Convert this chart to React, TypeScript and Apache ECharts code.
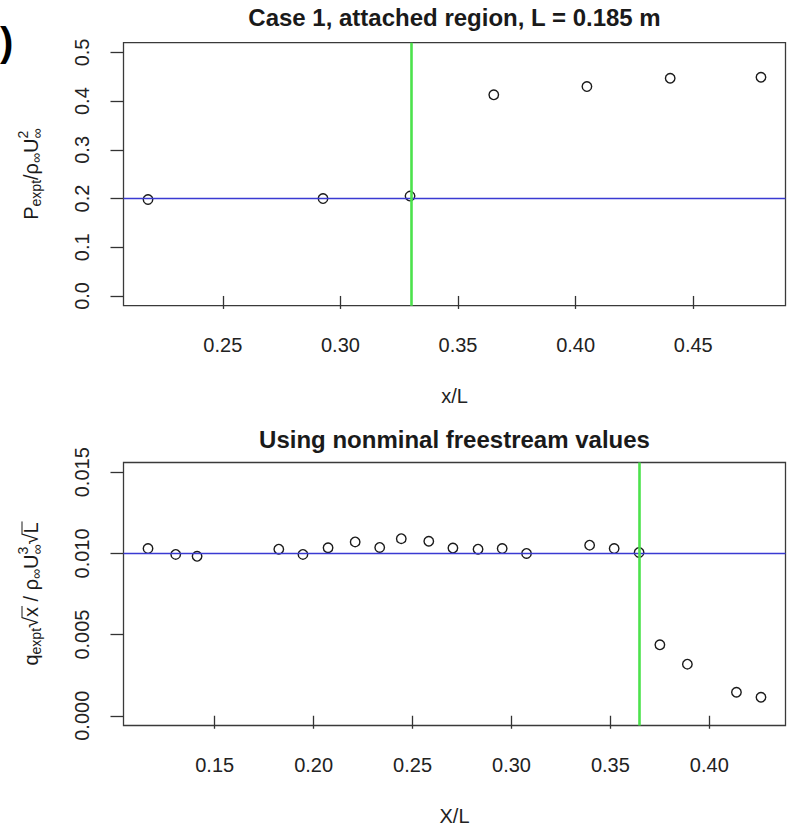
import React, { useEffect, useRef } from 'react';
import * as echarts from 'echarts';

const FONT = '"Liberation Sans", Arial, Helvetica, sans-serif';
const INK = '#1a1a1a';

const topTitle = 'Case 1, attached region, L = 0.185 m';
const bottomTitle = 'Using nonminal freestream values';
const topXName = 'x/L';
const bottomXName = 'X/L';
const panelTag = ')';

const topX = [0.2182, 0.2926, 0.3296, 0.3652, 0.4048, 0.4402, 0.4788];
const topY = [0.198, 0.2, 0.205, 0.413, 0.43, 0.447, 0.449];
const topXTicks = [0.25, 0.3, 0.35, 0.4, 0.45];
const topYTicks = [0, 0.1, 0.2, 0.3, 0.4, 0.5];
const topYLim = [0, 0.5];
const topHLine = 0.2;
const topVLine = 0.33;

const bottomX = [
  0.1163, 0.1303, 0.1411, 0.1824, 0.1946, 0.2073, 0.221, 0.2334, 0.2443, 0.2582, 0.2704,
  0.2831, 0.2953, 0.3076, 0.3395, 0.3519, 0.3645, 0.375, 0.3889, 0.4137, 0.4261,
];
const bottomY = [
  0.0103, 0.00994, 0.00982, 0.01026, 0.00994, 0.01035, 0.01071, 0.01037, 0.01091, 0.01075,
  0.01033, 0.01026, 0.0103, 0.01, 0.01051, 0.0103, 0.01006, 0.00437, 0.00318, 0.00145, 0.00114,
];
const bottomXTicks = [0.15, 0.2, 0.25, 0.3, 0.35, 0.4];
const bottomYTicks = [0, 0.005, 0.01, 0.015];
const bottomYLim = [0, 0.015];
const bottomHLine = 0.01;
const bottomVLine = 0.3645;

const BLUE = '#3a3ad2';
const GREEN = '#4ce24c';

function ext(lo: number, hi: number): [number, number] {
  const d = (hi - lo) * 0.04;
  return [lo - d, hi + d];
}

function measure(text: string, size: number): number {
  const c = document.createElement('canvas').getContext('2d');
  if (!c) return text.length * size * 0.55;
  c.font = `${size}px ${FONT}`;
  return c.measureText(text).width;
}

type Piece = { t?: string; stack?: [string, string]; size: number; dy?: number; over?: boolean };

function yTitle(pieces: Piece[], cx: number, cy: number) {
  const widths = pieces.map((p) =>
    p.stack ? Math.max(measure(p.stack[0], p.size), measure(p.stack[1], p.size)) : measure(p.t || '', p.size)
  );
  const total = widths.reduce((a, b) => a + b, 0);
  let x = -total / 2;
  const children: any[] = [];
  const mk = (t: string, size: number, px: number, py: number) => ({
    type: 'text',
    x: px,
    y: py,
    style: {
      text: t,
      fontSize: size,
      fontFamily: FONT,
      fill: INK,
      align: 'left',
      verticalAlign: 'middle',
      textAlign: 'left',
      textVerticalAlign: 'middle',
    },
  });
  pieces.forEach((p, i) => {
    const w = widths[i];
    if (p.stack) {
      children.push(mk(p.stack[0], p.size, x, -8));
      children.push(mk(p.stack[1], p.size, x, 6));
    } else {
      children.push(mk(p.t || '', p.size, x, p.dy || 0));
    }
    if (p.over) {
      children.push({
        type: 'line',
        shape: { x1: x - 1, y1: -9, x2: x + w + 1, y2: -9 },
        style: { stroke: INK, lineWidth: 1 },
      });
    }
    x += w;
  });
  return { type: 'group', x: cx, y: cy, rotation: Math.PI / 2, children };
}

const GRID_LEFT = 123.5;
const GRID_W = 662;
const GRID_H = 263;
const TOP1 = 42.7;
const TOP2 = 462.5;
const AXIS_COLOR = '#333';
const LABEL_SIZE = 20;

function xAxisCfg(idx: number, lim: [number, number], ticks: number[], name: string) {
  return {
    type: 'value',
    gridIndex: idx,
    min: lim[0],
    max: lim[1],
    axisLine: { show: false },
    splitLine: { show: false },
    axisTick: { show: true, length: 13, customValues: ticks, lineStyle: { color: AXIS_COLOR, width: 1.3 } },
    axisLabel: {
      customValues: ticks,
      formatter: (v: number) => v.toFixed(2),
      fontSize: LABEL_SIZE,
      fontFamily: FONT,
      color: '#222',
      margin: 29,
    },
    name,
    nameLocation: 'middle',
    nameGap: 80,
    nameTextStyle: { fontSize: LABEL_SIZE, fontFamily: FONT, color: '#222' },
  };
}

function yAxisCfg(idx: number, lim: [number, number], ticks: number[], digits: number) {
  return {
    type: 'value',
    gridIndex: idx,
    min: lim[0],
    max: lim[1],
    axisLine: { show: false },
    splitLine: { show: false },
    axisTick: { show: true, length: 13, customValues: ticks, lineStyle: { color: AXIS_COLOR, width: 1.3 } },
    axisLabel: {
      customValues: ticks,
      formatter: (v: number) => v.toFixed(digits),
      fontSize: LABEL_SIZE,
      fontFamily: FONT,
      color: '#222',
      rotate: 90,
      margin: 32,
    },
  };
}

function scatterSeries(idx: number, xs: number[], ys: number[], h: number, v: number) {
  return {
    type: 'scatter',
    xAxisIndex: idx,
    yAxisIndex: idx,
    data: xs.map((x, i) => [x, ys[i]]),
    symbol: 'circle',
    symbolSize: 9.5,
    silent: true,
    itemStyle: { color: 'rgba(0,0,0,0)', borderColor: INK, borderWidth: 1.4, opacity: 1 },
    markLine: {
      silent: true,
      symbol: 'none',
      precision: 8,
      label: { show: false },
      animation: false,
      lineStyle: { color: BLUE, width: 1.3, type: 'solid' },
      data: [
        { yAxis: h, lineStyle: { color: BLUE, width: 1.3, type: 'solid' } },
        { xAxis: v, lineStyle: { color: GREEN, width: 2.6, type: 'solid' } },
      ],
    },
  };
}

export default function App() {
  const ref = useRef<HTMLDivElement>(null);
  useEffect(() => {
    if (!ref.current) return;
    const chart = echarts.init(ref.current, null, { renderer: 'svg' });
    const topXLim = ext(Math.min(...topX), Math.max(...topX));
    const botXLim = ext(Math.min(...bottomX), Math.max(...bottomX));
    const topYL = ext(topYLim[0], topYLim[1]);
    const botYL = ext(bottomYLim[0], bottomYLim[1]);

    const gridCommon = {
      left: GRID_LEFT,
      width: GRID_W,
      height: GRID_H,
      show: true,
      borderColor: '#3a3a3a',
      borderWidth: 1.3,
      backgroundColor: 'transparent',
      containLabel: false,
      outerBoundsMode: 'none',
    };

    const topYTitle = yTitle(
      [
        { t: 'P', size: 20 },
        { t: 'expt', size: 14, dy: 5 },
        { t: '/ρ', size: 20 },
        { t: '∞', size: 14, dy: 5 },
        { t: 'U', size: 20 },
        { stack: ['2', '∞'], size: 14 },
      ],
      31,
      TOP1 + GRID_H / 2
    );
    const botYTitle = yTitle(
      [
        { t: 'q', size: 20 },
        { t: 'expt', size: 14, dy: 5 },
        { t: '√', size: 20 },
        { t: 'x', size: 20, over: true },
        { t: ' / ρ', size: 20 },
        { t: '∞', size: 14, dy: 5 },
        { t: 'U', size: 20 },
        { stack: ['3', '∞'], size: 14 },
        { t: '√', size: 20 },
        { t: 'L', size: 20, over: true },
      ],
      31,
      TOP2 + GRID_H / 2
    );

    chart.setOption({
      animation: false,
      textStyle: { fontFamily: FONT },
      title: [
        {
          text: topTitle,
          left: GRID_LEFT + GRID_W / 2,
          top: 5,
          padding: 0,
          textAlign: 'center',
          textStyle: { fontSize: 24, fontWeight: 'bold', fontFamily: FONT, color: INK },
        },
        {
          text: bottomTitle,
          left: GRID_LEFT + GRID_W / 2,
          top: 427,
          padding: 0,
          textAlign: 'center',
          textStyle: { fontSize: 24, fontWeight: 'bold', fontFamily: FONT, color: INK },
        },
      ],
      grid: [
        { ...gridCommon, top: TOP1 },
        { ...gridCommon, top: TOP2 },
      ],
      xAxis: [xAxisCfg(0, topXLim, topXTicks, topXName), xAxisCfg(1, botXLim, bottomXTicks, bottomXName)],
      yAxis: [yAxisCfg(0, topYL, topYTicks, 1), yAxisCfg(1, botYL, bottomYTicks, 3)],
      series: [
        scatterSeries(0, topX, topY, topHLine, topVLine),
        scatterSeries(1, bottomX, bottomY, bottomHLine, bottomVLine),
      ],
      graphic: [
        topYTitle,
        botYTitle,
        {
          type: 'text',
          x: 0,
          y: 42,
          style: {
            text: panelTag,
            fontSize: 40,
            fontWeight: 'bold',
            fontFamily: FONT,
            fill: '#000',
            align: 'left',
            verticalAlign: 'middle',
            textAlign: 'left',
            textVerticalAlign: 'middle',
          },
        },
      ],
    });
    return () => chart.dispose();
  }, []);
  return (
    <div
      ref={ref}
      style={{ position: 'absolute', left: 0, top: 0, width: 788, height: 825, background: '#fff' }}
    />
  );
}
